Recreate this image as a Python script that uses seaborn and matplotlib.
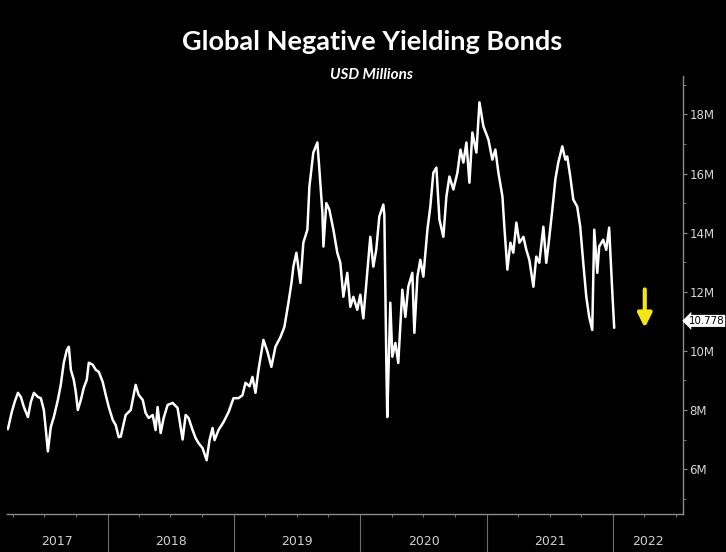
import numpy as np
import pandas as pd
import seaborn as sns
import matplotlib.pyplot as plt
import matplotlib.dates as mdates
from matplotlib.ticker import FuncFormatter, MultipleLocator, NullFormatter

obs_year = [
    2017.209, 2017.241, 2017.265, 2017.289, 2017.312, 2017.336, 2017.368, 2017.391,
    2017.415, 2017.447, 2017.470, 2017.494, 2017.510, 2017.526, 2017.549, 2017.573,
    2017.605, 2017.628, 2017.652, 2017.676, 2017.692, 2017.708, 2017.731, 2017.747,
    2017.763, 2017.787, 2017.810, 2017.834, 2017.850, 2017.881, 2017.905, 2017.929,
    2017.960, 2017.984, 2018.008, 2018.040, 2018.063, 2018.087, 2018.103, 2018.142,
    2018.182, 2018.221, 2018.245, 2018.277, 2018.300, 2018.324, 2018.356, 2018.379,
    2018.395, 2018.419, 2018.443, 2018.474, 2018.514, 2018.553, 2018.577, 2018.593,
    2018.617, 2018.640, 2018.672, 2018.696, 2018.719, 2018.751, 2018.783, 2018.806,
    2018.830, 2018.846, 2018.877, 2018.917, 2018.957, 2018.996, 2019.036, 2019.067,
    2019.091, 2019.123, 2019.146, 2019.170, 2019.194, 2019.233, 2019.265, 2019.296,
    2019.328, 2019.368, 2019.399, 2019.431, 2019.455, 2019.470, 2019.494, 2019.526,
    2019.549, 2019.581, 2019.597, 2019.628, 2019.660, 2019.676, 2019.700, 2019.708,
    2019.731, 2019.755, 2019.787, 2019.818, 2019.842, 2019.866, 2019.897, 2019.921,
    2019.945, 2019.976, 2020.000, 2020.024, 2020.055, 2020.079, 2020.103, 2020.126,
    2020.150, 2020.182, 2020.190, 2020.206, 2020.213, 2020.237, 2020.253, 2020.277,
    2020.300, 2020.332, 2020.356, 2020.379, 2020.411, 2020.427, 2020.451, 2020.474,
    2020.498, 2020.530, 2020.553, 2020.577, 2020.601, 2020.625, 2020.656, 2020.680,
    2020.704, 2020.735, 2020.767, 2020.791, 2020.814, 2020.838, 2020.862, 2020.885,
    2020.917, 2020.941, 2020.972, 2021.012, 2021.043, 2021.067, 2021.091, 2021.123,
    2021.138, 2021.162, 2021.186, 2021.209, 2021.233, 2021.257, 2021.289, 2021.312,
    2021.336, 2021.368, 2021.391, 2021.415, 2021.447, 2021.470, 2021.486, 2021.518,
    2021.542, 2021.565, 2021.597, 2021.621, 2021.636, 2021.660, 2021.684, 2021.715,
    2021.739, 2021.763, 2021.787, 2021.810, 2021.834, 2021.850, 2021.874, 2021.889,
    2021.921, 2021.945, 2021.968, 2021.992, 2022.008,
]

# outstanding negative yielding debt, USD millions (axis labelled in M)
value_m = [
    7.35, 7.95, 8.30, 8.58, 8.44, 8.10, 7.76, 8.27,
    8.58, 8.44, 8.40, 8.00, 7.32, 6.60, 7.42, 7.76,
    8.34, 8.85, 9.60, 10.03, 10.14, 9.36, 9.02, 8.61,
    8.00, 8.34, 8.75, 9.02, 9.60, 9.53, 9.36, 9.29,
    8.95, 8.51, 8.10, 7.66, 7.49, 7.08, 7.10, 7.83,
    8.00, 8.85, 8.51, 8.34, 7.90, 7.73, 7.83, 7.32,
    8.10, 7.22, 7.73, 8.17, 8.24, 8.07, 7.42, 7.00,
    7.83, 7.73, 7.32, 7.05, 6.88, 6.71, 6.30, 6.98,
    7.39, 6.98, 7.32, 7.59, 7.93, 8.40, 8.40, 8.50,
    8.92, 8.80, 9.12, 8.58, 9.36, 10.37, 9.97, 9.46,
    10.14, 10.47, 10.81, 11.63, 12.30, 12.85, 13.32, 12.30,
    13.66, 14.10, 15.56, 16.71, 17.05, 16.14, 14.68, 13.53,
    15.00, 14.78, 14.10, 13.32, 12.98, 11.83, 12.64, 11.49,
    11.83, 11.39, 11.90, 11.10, 12.64, 13.86, 12.85, 13.42,
    14.54, 14.95, 14.60, 9.50, 7.76, 11.63, 9.80, 10.27,
    9.59, 12.07, 11.15, 12.17, 12.64, 10.61, 12.51, 13.08,
    12.51, 14.10, 14.88, 16.03, 16.20, 14.44, 13.86, 15.22,
    15.90, 15.46, 16.03, 16.81, 16.37, 17.05, 15.69, 17.39,
    16.71, 18.41, 17.60, 17.15, 16.47, 16.81, 16.03, 15.22,
    14.20, 12.75, 13.66, 13.32, 14.34, 13.66, 13.86, 13.42,
    13.08, 12.17, 13.19, 12.98, 14.20, 12.98, 13.53, 14.78,
    15.80, 16.37, 16.92, 16.47, 16.58, 15.90, 15.12, 14.88,
    14.20, 12.98, 11.83, 11.15, 10.71, 14.10, 12.64, 13.53,
    13.76, 13.42, 14.17, 12.07, 10.78,
]

year_labels = ["2017", "2018", "2019", "2020", "2021", "2022"]
y_ticks = [6, 8, 10, 12, 14, 16, 18]
last_label = "10.778"
title = "Global Negative Yielding Bonds"
subtitle = "USD Millions"


def to_date(y):
    yr = int(np.floor(y))
    start = pd.Timestamp(yr, 1, 1)
    end = pd.Timestamp(yr + 1, 1, 1)
    return start + (end - start) * (y - yr)


df = pd.DataFrame({"date": [to_date(y) for y in obs_year], "value": value_m})

sns.set_theme(style="dark", rc={"axes.facecolor": "black", "figure.facecolor": "black",
                                "savefig.facecolor": "black"})
plt.rcParams["font.family"] = ["Liberation Sans Narrow", "DejaVu Sans"]

fig = plt.figure(figsize=(7.26, 5.52), dpi=100)
ax = fig.add_axes([0.0096, 0.0688, 0.9312, 0.7935])
sns.lineplot(data=df, x="date", y="value", color="white", lw=1.8, ax=ax)

x0, x1 = to_date(2017.202), to_date(2022.553)
ax.set_xlim(x0, x1)
ax.set_ylim(4.48, 19.3)
ax.grid(False)
ax.set_xlabel("")
ax.set_ylabel("")

for side in ["left", "top"]:
    ax.spines[side].set_visible(False)
for side in ["right", "bottom"]:
    ax.spines[side].set_visible(True)
    ax.spines[side].set_color("#8c8c8c")
    ax.spines[side].set_linewidth(1.0)

# y axis on the right, Bloomberg style
ax.yaxis.tick_right()
ax.set_yticks(y_ticks)
ax.yaxis.set_minor_locator(MultipleLocator(1))
ax.yaxis.set_major_formatter(FuncFormatter(lambda v, p: f"{int(v)}M"))
ax.tick_params(axis="y", which="major", direction="out", length=3, width=0.8,
               color="#8c8c8c", labelcolor="#d6d6d6", labelsize=8.5, pad=1.5,
               left=False, right=True)
ax.tick_params(axis="y", which="minor", direction="out", length=2, width=0.6,
               color="#8c8c8c", left=False, right=True)

# year separators and quarterly ticks
ax.xaxis.set_major_locator(mdates.YearLocator())
ax.xaxis.set_minor_locator(mdates.MonthLocator(bymonth=[4, 7, 10]))
ax.xaxis.set_major_formatter(NullFormatter())
ax.tick_params(axis="x", which="major", direction="out", length=28, width=0.8,
               color="#6e6e6e", bottom=True)
ax.tick_params(axis="x", which="minor", direction="out", length=2.5, width=0.6,
               color="#8c8c8c", bottom=True)

trans = ax.get_xaxis_transform()
for lab in year_labels:
    yr = int(lab)
    lo = max(pd.Timestamp(yr, 1, 1), x0)
    hi = min(pd.Timestamp(yr + 1, 1, 1), x1)
    mid = lo + (hi - lo) / 2
    ax.text(mid, -0.062, lab, transform=trans, ha="center", va="center",
            color="#d0d0d0", fontsize=9, clip_on=False)

# last value tag
ax.annotate(last_label, xy=(1.0, value_m[-1]), xycoords=("axes fraction", "data"),
            xytext=(4, 5), textcoords="offset points", ha="left", va="center",
            color="black", fontsize=7.4, annotation_clip=False,
            bbox=dict(boxstyle="larrow,pad=0.1", fc="white", ec="none"))

# yellow down arrow after the last point
arrow_x = to_date(2022.25)
ax.annotate("", xy=(arrow_x, value_m[-1]), xytext=(arrow_x, value_m[-1] + 1.3),
            arrowprops=dict(arrowstyle="-|>,head_width=0.35,head_length=0.7",
                            color="#f4e516", lw=3, shrinkA=0, shrinkB=0))

fig.text(0.512, 0.924, title, ha="center", va="center", color="white",
         fontsize=19.5, fontweight="bold", family=["Lato", "DejaVu Sans"])
fig.text(0.512, 0.864, subtitle, ha="center", va="center", color="white",
         fontsize=11, fontweight="bold", fontstyle="italic", family=["Lato", "DejaVu Sans"])

fig.savefig("out.png", dpi=100, facecolor="black")
